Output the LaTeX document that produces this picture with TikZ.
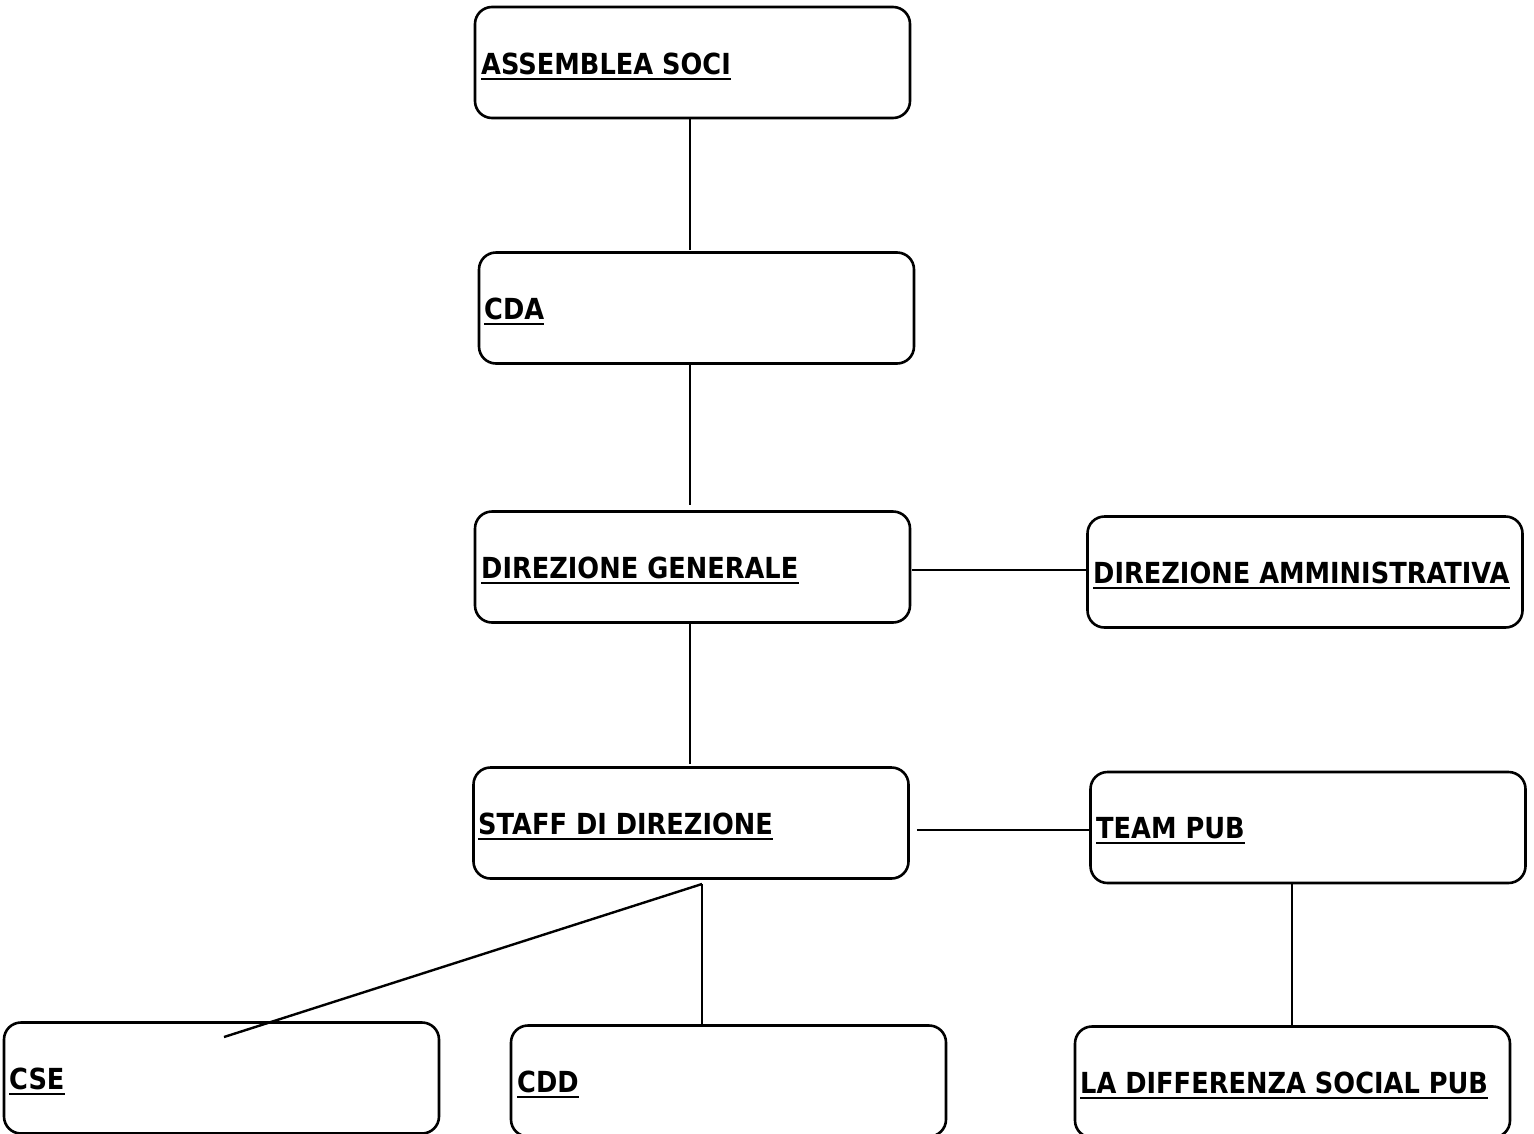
\documentclass[tikz,border=0pt]{standalone}
\usepackage{fontspec}
\newfontfamily\lblfont[FakeStretch=0.885]{DejaVu Sans Bold}
\begin{document}
\begin{tikzpicture}[x=1pt,y=-1pt,
  box/.style={draw,line width=2.6pt,rounded corners=17pt,minimum width=435pt,minimum height=111pt,inner sep=0pt},
  lbl/.style={anchor=base west,inner sep=0pt,text depth=0pt,font=\lblfont\fontsize{29}{30}\selectfont},
  conn/.style={line width=2.4pt},
  ul/.style={line width=2.2pt}]
\useasboundingbox (0,0) rectangle (1534,1133);
\clip (0,0) rectangle (1534,1133);
% boxes
\node[box] (as) at (692.5,62.5) {};
\node[box] (cda) at (696.5,308) {};
\node[box] (dg) at (692.5,567) {};
\node[box] (da) at (1305,572) {};
\node[box] (sd) at (691,823) {};
\node[box] (tp) at (1308,827.5) {};
\node[box] (cse) at (221.5,1078) {};
\node[box] (cdd) at (728.5,1081) {};
\node[box] (ldsp) at (1292.5,1082) {};
% labels
\node[lbl] (tas) at (481,74) {ASSEMBLEA SOCI};
\node[lbl] (tcda) at (484,319) {CDA};
\node[lbl] (tdg) at (481,578) {DIREZIONE GENERALE};
\node[lbl] (tda) at (1093,583) {DIREZIONE AMMINISTRATIVA};
\node[lbl] (tsd) at (478,834) {STAFF DI DIREZIONE};
\node[lbl] (ttp) at (1096,838) {TEAM PUB};
\node[lbl] (tcse) at (9,1089) {CSE};
\node[lbl] (tcdd) at (517,1092) {CDD};
\node[lbl] (tldsp) at (1080,1093) {LA DIFFERENZA SOCIAL PUB};
\foreach \n in {tas,tcda,tdg,tda,tsd,ttp,tcse,tcdd,tldsp}
  \draw[ul] ([yshift=-4.5pt]\n.south west) -- ([yshift=-4.5pt]\n.south east);
% connectors
\coordinate (hub) at (702,884);
\coordinate (cseend) at (224,1037);
\draw[conn] (690,0 |- as.south) -- (690,250);
\draw[conn] (690,0 |- cda.south) -- (690,505);
\draw[conn] ([xshift=1pt]dg.east |- 0,570) -- (da.west |- 0,570);
\draw[conn] (690,0 |- dg.south) -- (690,764);
\draw[conn] ([xshift=7pt]sd.east |- 0,830) -- (tp.west |- 0,830);
\draw[conn] (hub) -- (hub |- cdd.north);
\draw[conn] (hub) -- (cseend);
\draw[conn] (1292,0 |- tp.south) -- (1292,0 |- ldsp.north);
\end{tikzpicture}
\end{document}
